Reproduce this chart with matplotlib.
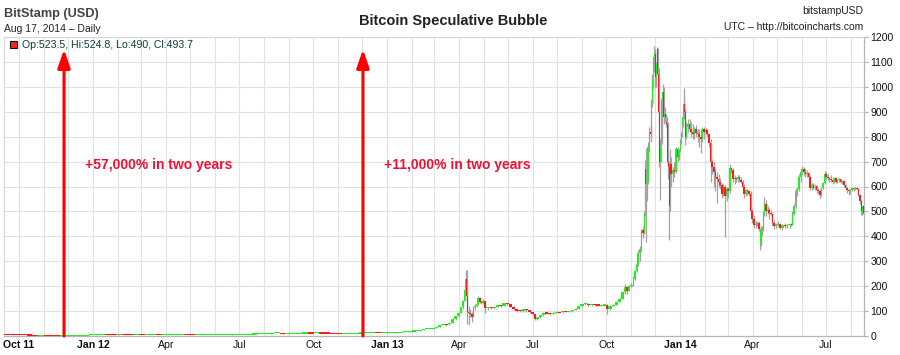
import matplotlib
matplotlib.use('Agg')
import matplotlib.pyplot as plt
import matplotlib.dates as mdates
from matplotlib.patches import Rectangle
from matplotlib.ticker import FixedLocator
import numpy as np
import pandas as pd

plt.rcParams['font.family'] = ['Liberation Sans', 'DejaVu Sans']

# ---------------- data (BitStamp USD, OHLC) ----------------
dates = [
    # 2011
    '2011-09-13', '2011-09-20', '2011-09-27', '2011-10-04', '2011-10-11', '2011-10-18', '2011-10-25',
    '2011-11-01', '2011-11-08', '2011-11-15', '2011-11-22', '2011-11-29', '2011-12-06', '2011-12-13',
    '2011-12-20', '2011-12-27',
    # 2012
    '2012-01-03', '2012-01-10', '2012-01-17', '2012-01-24', '2012-01-31', '2012-02-07', '2012-02-14',
    '2012-02-21', '2012-02-28', '2012-03-06', '2012-03-13', '2012-03-20', '2012-03-27', '2012-04-03',
    '2012-04-10', '2012-04-17', '2012-04-24', '2012-05-01', '2012-05-08', '2012-05-15', '2012-05-22',
    '2012-05-29', '2012-06-05', '2012-06-12', '2012-06-19', '2012-06-26', '2012-07-03', '2012-07-10',
    '2012-07-17', '2012-07-24', '2012-07-31', '2012-08-07', '2012-08-14', '2012-08-21', '2012-08-28',
    '2012-09-04', '2012-09-11', '2012-09-18', '2012-09-25', '2012-10-02', '2012-10-09', '2012-10-16',
    '2012-10-23', '2012-10-30', '2012-11-06', '2012-11-13', '2012-11-20', '2012-11-27', '2012-12-04',
    '2012-12-11', '2012-12-18', '2012-12-25',
    # 2013
    '2013-01-01', '2013-01-05', '2013-01-09', '2013-01-13', '2013-01-17', '2013-01-21', '2013-01-25',
    '2013-01-29', '2013-02-02', '2013-02-06', '2013-02-10', '2013-02-14', '2013-02-18', '2013-02-22',
    '2013-02-26', '2013-03-02', '2013-03-06', '2013-03-10', '2013-03-14', '2013-03-18', '2013-03-22',
    '2013-03-26', '2013-03-30', '2013-04-02', '2013-04-05', '2013-04-07', '2013-04-09', '2013-04-10',
    '2013-04-11', '2013-04-12', '2013-04-14', '2013-04-16', '2013-04-18', '2013-04-20', '2013-04-22',
    '2013-04-24', '2013-04-26', '2013-04-28', '2013-04-30', '2013-05-02', '2013-05-05', '2013-05-09',
    '2013-05-13', '2013-05-17', '2013-05-21', '2013-05-25', '2013-05-29', '2013-06-02', '2013-06-06',
    '2013-06-10', '2013-06-14', '2013-06-18', '2013-06-22', '2013-06-26', '2013-06-30', '2013-07-03',
    '2013-07-06', '2013-07-09', '2013-07-13', '2013-07-17', '2013-07-21', '2013-07-25', '2013-07-29',
    '2013-08-02', '2013-08-06', '2013-08-10', '2013-08-14', '2013-08-18', '2013-08-22', '2013-08-26',
    '2013-08-30', '2013-09-03', '2013-09-07', '2013-09-11', '2013-09-15', '2013-09-19', '2013-09-23',
    '2013-09-27', '2013-10-01', '2013-10-04', '2013-10-08', '2013-10-12', '2013-10-16', '2013-10-20',
    '2013-10-23', '2013-10-26', '2013-10-28', '2013-10-31', '2013-11-03', '2013-11-05', '2013-11-07',
    '2013-11-09', '2013-11-11', '2013-11-13', '2013-11-15', '2013-11-17', '2013-11-18', '2013-11-19',
    '2013-11-20', '2013-11-21', '2013-11-23', '2013-11-25', '2013-11-26', '2013-11-27', '2013-11-28',
    '2013-11-29', '2013-11-30', '2013-12-01', '2013-12-02', '2013-12-03', '2013-12-04', '2013-12-05',
    '2013-12-06', '2013-12-07', '2013-12-08', '2013-12-09', '2013-12-10', '2013-12-11', '2013-12-12',
    '2013-12-13', '2013-12-14', '2013-12-15', '2013-12-16', '2013-12-17', '2013-12-18', '2013-12-19',
    '2013-12-20', '2013-12-22', '2013-12-24', '2013-12-26', '2013-12-28', '2013-12-30',
    # 2014
    '2014-01-01', '2014-01-02', '2014-01-03', '2014-01-04', '2014-01-05', '2014-01-06', '2014-01-07',
    '2014-01-08', '2014-01-10', '2014-01-12', '2014-01-14', '2014-01-16', '2014-01-18', '2014-01-20',
    '2014-01-22', '2014-01-24', '2014-01-26', '2014-01-28', '2014-01-30', '2014-02-01', '2014-02-03',
    '2014-02-05', '2014-02-07', '2014-02-09', '2014-02-11', '2014-02-13', '2014-02-15', '2014-02-17',
    '2014-02-19', '2014-02-21', '2014-02-23', '2014-02-25', '2014-02-27', '2014-03-01', '2014-03-03',
    '2014-03-05', '2014-03-07', '2014-03-09', '2014-03-11', '2014-03-13', '2014-03-15', '2014-03-17',
    '2014-03-19', '2014-03-21', '2014-03-23', '2014-03-25', '2014-03-27', '2014-03-29', '2014-03-31',
    '2014-04-02', '2014-04-04', '2014-04-06', '2014-04-08', '2014-04-10', '2014-04-11', '2014-04-13',
    '2014-04-14', '2014-04-15', '2014-04-17', '2014-04-19', '2014-04-21', '2014-04-23', '2014-04-25',
    '2014-04-27', '2014-04-29', '2014-05-01', '2014-05-04', '2014-05-07', '2014-05-10', '2014-05-13',
    '2014-05-16', '2014-05-19', '2014-05-20', '2014-05-22', '2014-05-24', '2014-05-26', '2014-05-28',
    '2014-05-30', '2014-06-01', '2014-06-03', '2014-06-05', '2014-06-07', '2014-06-09', '2014-06-11',
    '2014-06-13', '2014-06-15', '2014-06-17', '2014-06-19', '2014-06-21', '2014-06-23', '2014-06-25',
    '2014-06-27', '2014-06-29', '2014-07-01', '2014-07-03', '2014-07-05', '2014-07-07', '2014-07-09',
    '2014-07-11', '2014-07-13', '2014-07-15', '2014-07-17', '2014-07-19', '2014-07-21', '2014-07-23',
    '2014-07-25', '2014-07-27', '2014-07-29', '2014-07-31', '2014-08-02', '2014-08-04', '2014-08-06',
    '2014-08-08', '2014-08-10', '2014-08-12', '2014-08-14', '2014-08-15', '2014-08-16', '2014-08-17',
]

opens = [
    5.8, 5.6, 5.4, 5.0, 4.2, 3.9, 2.5, 3.2, 3.0, 2.9, 2.3, 2.5, 3.0, 3.0, 3.2, 4.0,
    4.7, 6.6, 7.0, 6.3, 5.7, 6.0, 5.6, 4.5, 5.0, 4.9, 5.3, 5.3, 4.7, 4.9, 4.9, 4.95, 5.2, 5.1, 5.0, 5.0,
    5.1, 5.1, 5.2, 5.4, 5.9, 6.5, 6.6, 6.8, 7.6, 8.7, 8.9, 9.5, 11.2, 13.5, 10.0, 10.8, 11.0, 11.6, 12.3,
    12.2, 12.5, 12.0, 11.8, 11.0, 10.7, 10.8, 11.0, 11.7, 12.5, 13.2, 13.5, 13.3,
    13.4, 13.4, 13.5, 14.2, 14.7, 16.0, 17.3, 17.8, 19.6, 20.4, 21.8, 24.1, 27.3, 29.5, 29.9, 31.4, 34.5,
    43.8, 46.8, 46.5, 51.6, 69.5, 78.5, 92, 117, 142, 185, 230, 160, 95, 91, 90, 78, 115, 122, 127, 153,
    138, 133, 139, 112, 115, 112, 117, 123, 122, 131, 128, 118, 108, 102, 100, 107, 103, 96, 88, 70, 76,
    83, 94, 91, 89, 94, 97, 95, 100, 98, 99, 104, 110, 120, 128, 130, 124, 127, 125, 124, 124, 125, 108,
    122, 126, 138, 150, 175, 195, 182, 200, 205, 230, 260, 290, 335, 350, 425, 415, 490, 670, 610, 620,
    760, 820, 810, 930, 1030, 1080, 1120, 1130, 1040, 1090, 1150, 1050, 900, 700, 760, 780, 950, 980,
    880, 890, 880, 860, 850, 700, 680, 520, 690, 650, 665, 660, 750, 720,
    745, 780, 810, 850, 880, 930, 900, 800, 840, 850, 830, 820, 810, 830, 815, 810, 800, 790, 830, 820,
    825, 810, 775, 700, 680, 660, 640, 630, 620, 605, 570, 600, 560, 590, 580, 675, 665, 630, 635, 630,
    640, 625, 620, 600, 570, 585, 580, 570, 500, 470, 445, 450, 455, 430, 370, 425, 430, 490, 530, 500,
    505, 495, 490, 455, 440, 448, 450, 435, 445, 440, 445, 447, 445, 490, 520, 580, 590, 640, 660, 670,
    660, 650, 655, 640, 595, 605, 595, 600, 585, 580, 565, 595, 615, 650, 640, 635, 630, 625, 620, 635,
    620, 625, 630, 620, 622, 605, 595, 585, 580, 585, 595, 590, 592, 590, 565, 540, 500, 495, 523.5,
]

highs = [
    6.0, 6.2, 5.5, 5.1, 4.4, 4.0, 3.6, 3.5, 3.2, 3.0, 2.6, 3.2, 3.2, 3.4, 4.2, 4.9,
    7.0, 7.3, 7.2, 6.4, 6.2, 6.1, 5.6, 5.2, 5.1, 5.4, 5.5, 5.3, 5.0, 5.0, 5.0, 5.3, 5.2, 5.1, 5.1, 5.1,
    5.2, 5.3, 5.5, 5.9, 6.6, 6.7, 6.9, 7.8, 9.2, 9.0, 9.6, 11.5, 15.4, 13.6, 11.0, 11.2, 11.8, 12.5, 12.4,
    12.9, 12.6, 12.0, 11.9, 11.1, 10.9, 11.2, 11.8, 12.6, 13.5, 13.6, 13.6, 13.6,
    13.6, 13.6, 14.3, 14.8, 16.3, 17.5, 18.2, 20.3, 20.5, 22.3, 24.5, 27.8, 29.6, 30.2, 31.7, 35.0, 44.5,
    48.5, 48.0, 52.0, 71.5, 80.0, 95.0, 118, 145, 190, 266, 265, 170, 120, 110, 95, 120, 130, 130, 160,
    156, 142, 147, 140, 118, 118, 120, 125, 124, 133, 133, 129, 122, 110, 104, 110, 108, 104, 98, 89, 78,
    85, 96, 97, 93, 96, 99, 98, 102, 102, 101, 106, 112, 122, 130, 137, 132, 130, 129, 127, 126, 128, 128,
    125, 128, 140, 152, 180, 210, 200, 205, 212, 240, 265, 300, 345, 360, 430, 440, 500, 705, 755, 660,
    780, 840, 850, 950, 1050, 1100, 1163, 1150, 1140, 1100, 1160, 1155, 1076, 920, 790, 800, 960, 1010,
    1000, 910, 920, 890, 880, 860, 720, 700, 750, 720, 680, 700, 760, 760, 750,
    790, 820, 860, 900, 996, 960, 910, 860, 870, 870, 860, 850, 840, 845, 830, 830, 830, 840, 840, 835,
    830, 815, 790, 710, 700, 670, 660, 650, 635, 615, 610, 605, 600, 600, 690, 680, 675, 645, 640, 645,
    645, 640, 625, 610, 590, 590, 585, 580, 510, 485, 460, 460, 460, 432, 440, 440, 500, 557, 545, 520,
    515, 505, 495, 465, 455, 460, 455, 450, 455, 450, 450, 455, 500, 530, 590, 600, 650, 670, 684, 680,
    670, 665, 660, 645, 615, 615, 610, 605, 595, 590, 600, 620, 664, 660, 650, 640, 645, 635, 640, 640,
    630, 635, 632, 628, 625, 610, 600, 590, 590, 600, 600, 600, 600, 592, 570, 545, 510, 525, 524.8,
]

lows = [
    5.0, 5.2, 4.6, 4.0, 3.6, 2.2, 2.3, 2.9, 2.8, 2.0, 2.0, 2.4, 2.8, 2.9, 3.1, 3.8,
    4.7, 6.3, 5.8, 5.5, 5.6, 5.4, 4.3, 4.3, 4.8, 4.8, 5.2, 4.6, 4.7, 4.8, 4.8, 4.9, 4.9, 4.9, 4.9, 4.9,
    5.0, 5.1, 5.2, 5.4, 5.9, 6.3, 6.5, 6.7, 7.6, 8.5, 8.8, 9.4, 11.0, 7.5, 9.8, 10.6, 10.9, 11.5, 12.0,
    12.1, 11.7, 11.6, 10.6, 10.4, 10.6, 10.7, 10.9, 11.6, 12.4, 13.1, 13.0, 13.2,
    13.2, 13.3, 13.5, 14.1, 14.6, 15.8, 16.9, 17.6, 19.0, 20.2, 21.6, 23.9, 26.5, 27.5, 29.6, 31.0, 34.2,
    42.8, 39.0, 46.0, 51.0, 64.0, 77.0, 91, 110, 140, 180, 105, 50, 45, 75, 55, 76, 105, 115, 125,
    132, 128, 130, 92, 105, 110, 110, 115, 118, 121, 123, 115, 105, 98, 97, 98, 98, 94, 86, 66, 66,
    74, 82, 88, 86, 88, 92, 93, 94, 96, 96, 98, 103, 108, 118, 124, 120, 122, 122, 121, 120, 122, 90,
    106, 120, 125, 136, 148, 170, 170, 180, 196, 200, 225, 255, 280, 300, 340, 395, 410, 480, 377, 540,
    610, 740, 780, 800, 920, 990, 1060, 1080, 1000, 1000, 1070, 1000, 860, 680, 545, 700, 770, 930,
    860, 850, 860, 840, 800, 690, 630, 385, 500, 600, 620, 640, 655, 700, 705,
    740, 770, 800, 840, 870, 880, 765, 790, 820, 820, 800, 790, 790, 800, 780, 760, 735, 780, 790, 810,
    800, 760, 620, 650, 597, 580, 532, 600, 590, 555, 560, 397, 540, 555, 575, 655, 620, 610, 620, 620,
    620, 615, 590, 555, 560, 565, 560, 490, 455, 435, 435, 440, 420, 344, 360, 400, 420, 480, 480, 490,
    470, 480, 440, 430, 435, 440, 430, 425, 435, 432, 435, 440, 445, 485, 515, 560, 580, 620, 645, 645,
    640, 640, 630, 585, 585, 590, 585, 575, 570, 555, 560, 590, 610, 630, 625, 620, 620, 610, 615, 615,
    615, 620, 615, 612, 600, 590, 575, 565, 570, 580, 580, 585, 585, 560, 530, 485, 485, 490, 490,
]

closes = [
    5.6, 5.4, 5.0, 4.2, 3.9, 2.5, 3.2, 3.0, 2.9, 2.3, 2.5, 3.0, 3.0, 3.2, 4.0, 4.7,
    6.6, 7.0, 6.3, 5.7, 6.0, 5.6, 4.5, 5.0, 4.9, 5.3, 5.3, 4.7, 4.9, 4.9, 4.95, 5.2, 5.1, 5.0, 5.0, 5.1,
    5.1, 5.2, 5.4, 5.9, 6.5, 6.6, 6.8, 7.6, 8.7, 8.9, 9.5, 11.2, 13.5, 10.0, 10.8, 11.0, 11.6, 12.3, 12.2,
    12.5, 12.0, 11.8, 11.0, 10.7, 10.8, 11.0, 11.7, 12.5, 13.2, 13.5, 13.3, 13.4,
    13.4, 13.5, 14.2, 14.7, 16.0, 17.3, 17.8, 19.6, 20.4, 21.8, 24.1, 27.3, 29.5, 29.9, 31.4, 34.5, 43.8,
    46.8, 46.5, 51.6, 69.5, 78.5, 92.0, 117, 142, 185, 230, 160, 95, 91, 90, 78, 115, 122, 127, 153,
    138, 133, 139, 112, 115, 112, 117, 123, 122, 131, 128, 118, 108, 102, 100, 107, 103, 96, 88, 70, 76,
    83, 94, 91, 89, 94, 97, 95, 100, 98, 99, 104, 110, 120, 128, 130, 124, 127, 125, 124, 124, 125, 108,
    122, 126, 138, 150, 175, 195, 182, 200, 205, 230, 260, 290, 335, 350, 425, 415, 490, 670, 610, 620,
    760, 820, 810, 930, 1030, 1080, 1120, 1130, 1040, 1090, 1150, 1050, 900, 700, 760, 780, 950, 980,
    880, 890, 880, 860, 850, 700, 680, 520, 690, 650, 665, 660, 750, 720, 745,
    780, 810, 850, 880, 930, 900, 800, 840, 850, 830, 820, 810, 830, 815, 810, 800, 790, 830, 820, 825,
    810, 775, 700, 680, 660, 640, 630, 620, 605, 570, 600, 560, 590, 580, 675, 665, 630, 635, 630, 640,
    625, 620, 600, 570, 585, 580, 570, 500, 470, 445, 450, 455, 430, 370, 425, 430, 490, 530, 500, 505,
    495, 490, 455, 440, 448, 450, 435, 445, 440, 445, 447, 445, 490, 520, 580, 590, 640, 660, 670, 660,
    650, 655, 640, 595, 605, 595, 600, 585, 580, 565, 595, 615, 650, 640, 635, 630, 625, 620, 635, 620,
    625, 630, 620, 622, 605, 595, 585, 580, 585, 595, 590, 592, 590, 565, 540, 500, 495, 523.5, 493.7,
]

y_ticks = [0, 100, 200, 300, 400, 500, 600, 700, 800, 900, 1000, 1100, 1200]
x_tick_dates = ['2011-10-01', '2012-01-01', '2012-04-01', '2012-07-01', '2012-10-01', '2013-01-01',
                '2013-04-01', '2013-07-01', '2013-10-01', '2014-01-01', '2014-04-01', '2014-07-01']
x_tick_labels = ['Oct 11', 'Jan 12', 'Apr', 'Jul', 'Oct', 'Jan 13', 'Apr', 'Jul', 'Oct', 'Jan 14', 'Apr', 'Jul']

arrow_dates = ['2011-11-26', '2012-12-02']
arrow_top = 1150
arrow_labels = ['+57,000% in two years', '+11,000% in two years']
label_level = 670

# ---------------- figure ----------------
W, H = 900, 355
fig = plt.figure(figsize=(W / 100, H / 100), dpi=100)
fig.patch.set_facecolor('white')
ax = fig.add_axes([4 / W, 19 / H, 860 / W, 299 / H])

t = mdates.date2num(pd.to_datetime(dates))
o = np.array(opens, float)
hi = np.array(highs, float)
lo = np.array(lows, float)
c = np.array(closes, float)
n = len(t)
assert len(o) == n and len(hi) == n and len(lo) == n and len(c) == n, (n, len(o), len(hi), len(lo), len(c))

widths = np.append(np.diff(t), 1.0)
min_h = 4.5
diff = np.abs(c - o)
bottoms = np.where(diff < min_h, (o + c) / 2 - min_h / 2, np.minimum(o, c))
heights = np.maximum(diff, min_h)
colors = np.where(c >= o, '#22ee22', '#ff1a1a')
centers = t - 0.5 + widths / 2

ax.vlines(centers, lo, hi, color='#a3a3a3', lw=0.9, zorder=2)
ax.bar(t - 0.5, heights, width=widths, bottom=bottoms, align='edge',
       color=colors, linewidth=0, zorder=3)

# axes limits
ax.set_xlim(mdates.date2num(pd.Timestamp('2011-09-12')) + 0.3,
            mdates.date2num(pd.Timestamp('2014-08-17')) + 0.5)
ax.set_ylim(0, 1200)

# grid
month_starts = mdates.date2num(pd.date_range('2011-10-01', '2014-08-01', freq='MS'))
ax.xaxis.set_minor_locator(FixedLocator(month_starts))
ax.set_xticks(mdates.date2num(pd.to_datetime(x_tick_dates)))
ax.set_xticklabels(x_tick_labels)
for lab in ax.get_xticklabels():
    if any(ch.isdigit() for ch in lab.get_text()):
        lab.set_fontweight('bold')
ax.grid(True, which='both', axis='x', color='#e2e2e2', lw=0.8, zorder=0)
ax.set_yticks(y_ticks)
ax.set_yticklabels([str(v) for v in y_ticks])
ax.grid(True, which='major', axis='y', color='#e2e2e2', lw=0.8, zorder=0)
ax.set_axisbelow(True)

ax.yaxis.tick_right()
ax.tick_params(axis='y', which='major', length=3, width=0.8, color='#b0b0b0', pad=1.5,
               labelsize=7.5, labelcolor='#111111')
ax.tick_params(axis='x', which='both', length=0, pad=3, labelsize=7.6, labelcolor='#111111')

for side in ['top', 'left']:
    ax.spines[side].set_color('#d6d6d6')
    ax.spines[side].set_linewidth(0.8)
for side in ['right', 'bottom']:
    ax.spines[side].set_color('#b5b5b5')
    ax.spines[side].set_linewidth(0.9)

# arrows and annotations
for d, lab in zip(arrow_dates, arrow_labels):
    xd = mdates.date2num(pd.Timestamp(d))
    ax.annotate('', xy=(xd, arrow_top), xytext=(xd, 0),
                arrowprops=dict(arrowstyle='-|>,head_length=0.55,head_width=0.19',
                                color='#ff0000', lw=2.2, shrinkA=0, shrinkB=0,
                                mutation_scale=20),
                zorder=6)
    ax.annotate(lab, xy=(xd, label_level), xytext=(21, 0), textcoords='offset pixels',
                color='#ee1133', fontsize=10, fontweight='bold', ha='left', va='baseline',
                zorder=6)


def ftext(x, y, s, **kw):
    fig.text(x / W, 1 - y / H, s, **kw)


ftext(4, 16.7, 'BitStamp (USD)', fontsize=9.2, fontweight='bold', color='#444444', va='baseline')
ftext(4, 32.3, 'Aug 17, 2014 \u2013 Daily', fontsize=7.45, color='#222222', va='baseline')
ftext(453, 25, 'Bitcoin Speculative Bubble', fontsize=10.5, fontweight='bold', color='#222222',
      ha='center', va='baseline')
ftext(863, 13.5, 'bitstampUSD', fontsize=7.5, color='#222222', ha='right', va='baseline')
ftext(863, 29.5, 'UTC \u2013 http://bitcoincharts.com', fontsize=7.5, color='#222222',
      ha='right', va='baseline')

# legend row (last candle values)
fig.add_artist(Rectangle((9.5 / W, 1 - 47.5 / H), 7 / W, 7 / H, transform=fig.transFigure,
                         facecolor='#ff2020', edgecolor='#111111', lw=0.8))
legend_text = f"Op:{opens[-1]:g}, Hi:{highs[-1]:g}, Lo:{lows[-1]:g}, Cl:{closes[-1]:g}"
ftext(21.7, 47.5, legend_text, fontsize=7.6, color='#0d3b3b', va='baseline')

fig.savefig('out.png', dpi=100, facecolor='white')
